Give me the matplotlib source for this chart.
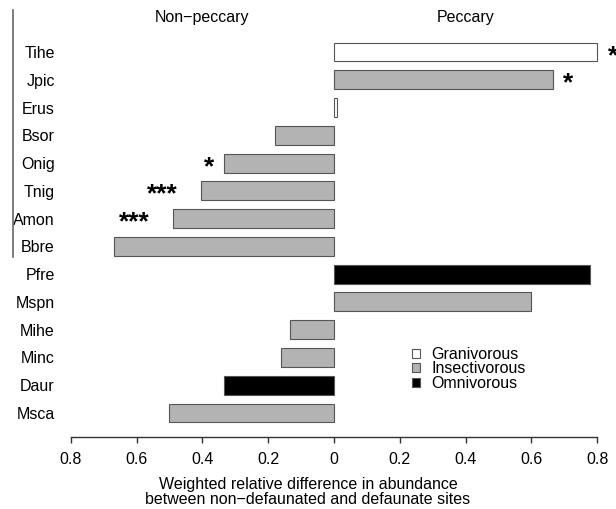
import matplotlib
matplotlib.use("Agg")
import matplotlib.pyplot as plt
from matplotlib.patches import Patch

plt.rcParams["font.family"] = ["Liberation Sans", "DejaVu Sans"]

# Species codes, top to bottom
species = ["Tihe", "Jpic", "Erus", "Bsor", "Onig", "Tnig", "Amon", "Bbre",
           "Pfre", "Mspn", "Mihe", "Minc", "Daur", "Msca"]
# Signed difference: negative = non-peccary side, positive = peccary side
diff = [0.80, 0.665, 0.01, -0.178, -0.333, -0.405, -0.49, -0.668,
        0.778, 0.60, -0.133, -0.162, -0.333, -0.50]
diet = ["Granivorous", "Insectivorous", "Granivorous", "Insectivorous",
        "Insectivorous", "Insectivorous", "Insectivorous", "Insectivorous",
        "Omnivorous", "Insectivorous", "Insectivorous", "Insectivorous",
        "Omnivorous", "Insectivorous"]
signif = ["*", "*", "", "", "*", "***", "***", "", "", "", "", "", "", ""]

diet_colors = {"Granivorous": "white", "Insectivorous": "#b3b3b3", "Omnivorous": "black"}
tick_vals = [-0.8, -0.6, -0.4, -0.2, 0, 0.2, 0.4, 0.6, 0.8]
tick_labels = ["0.8", "0.6", "0.4", "0.2", "0", "0.2", "0.4", "0.6", "0.8"]

W, H = 616, 509
fig = plt.figure(figsize=(W / 100, H / 100), dpi=100)
# axes from the top edge down to the x axis line (pixel 437)
ax = fig.add_axes([0, (H - 437) / H, 1, 437 / H])

rows = list(range(len(species)))
ax.barh(rows, diff, height=0.68, color=[diet_colors[d] for d in diet],
        edgecolor="#555555", linewidth=0.8)

# significance stars beyond bar ends
for r, v, s in zip(rows, diff, signif):
    if s:
        off = 0.012 + 0.035 * len(s)
        x = v + off if v > 0 else v - off
        ax.text(x, r + 0.14, s, ha="center", va="center", fontsize=19,
                fontweight="bold")

ax.set_xlim(-334 / 329, (W - 334) / 329)
ax.set_ylim(13.864, -1.873)

# group headers
ax.text(-0.4, -1.26, "Non\u2212peccary", ha="center", va="center", fontsize=11.5)
ax.text(0.4, -1.26, "Peccary", ha="center", va="center", fontsize=11.5)

# left bracket line for the upper group
ax.plot([-0.976, -0.976], [-1.51, 7.38], color="#666666", lw=1.2, clip_on=False)

for side in ["top", "right"]:
    ax.spines[side].set_visible(False)
ax.spines["left"].set_position(("data", -0.84))
ax.spines["left"].set_color("none")
ax.spines["bottom"].set_bounds(-0.8, 0.8)
ax.spines["bottom"].set_color("#333333")
ax.spines["bottom"].set_linewidth(1.0)

ax.set_yticks(rows)
ax.set_yticklabels(species, fontsize=11.5)
ax.tick_params(axis="y", length=0, pad=2)
ax.set_xticks(tick_vals)
ax.set_xticklabels(tick_labels, fontsize=11.5)
ax.tick_params(axis="x", length=4.5, width=1.0, color="#333333", pad=6)
ax.set_xlabel("Weighted relative difference in abundance\nbetween non\u2212defaunated and defaunate sites",
              fontsize=11.5, linespacing=1.0, labelpad=7.5)

handles = [Patch(facecolor=diet_colors[k], edgecolor="#555555", linewidth=0.8, label=k)
           for k in ["Granivorous", "Insectivorous", "Omnivorous"]]
ax.legend(handles=handles, loc="upper left", bbox_to_anchor=(412 / W, 1 - 347 / 437),
          frameon=False, fontsize=11.5, handlelength=0.5, handleheight=0.5,
          handletextpad=0.7, labelspacing=-0.04, borderpad=0, borderaxespad=0)

fig.savefig("out.png", dpi=100)
